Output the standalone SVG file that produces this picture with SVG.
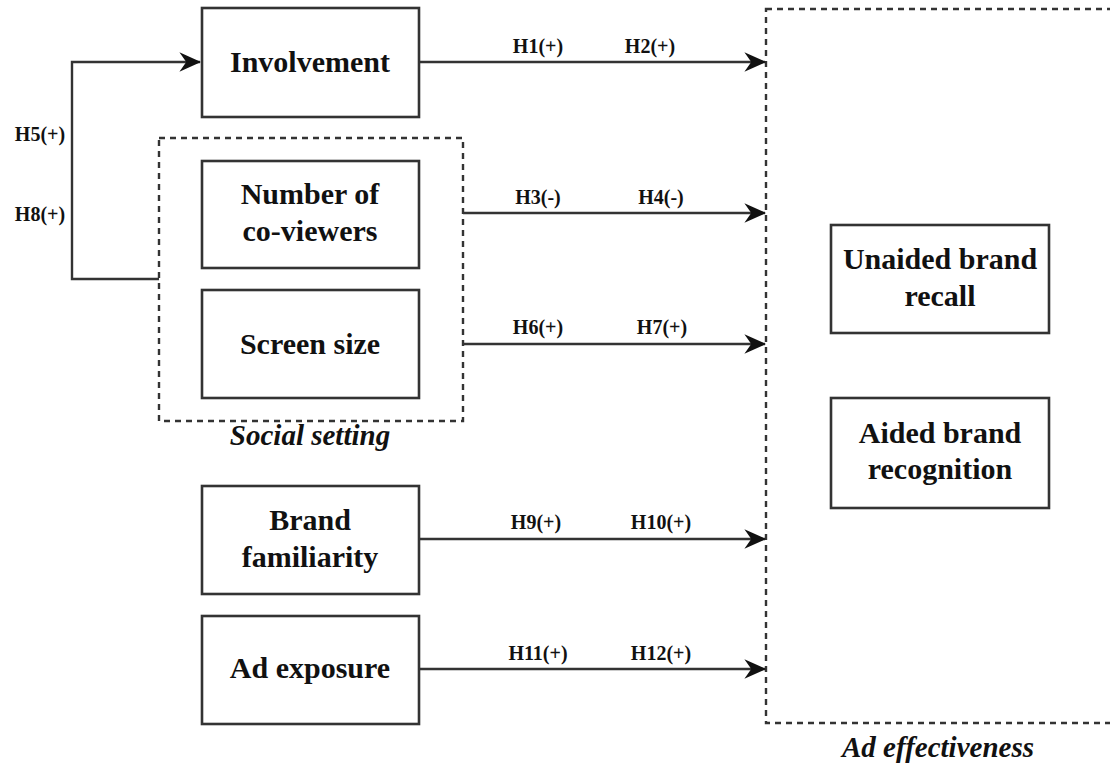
<svg xmlns="http://www.w3.org/2000/svg" width="1110" height="767" viewBox="0 0 1110 767">
<defs>
<style>
.box{fill:#fff;stroke:#333;stroke-width:2.6}
.dash{fill:none;stroke:#333;stroke-width:2.4;stroke-dasharray:6,5}
.edge{fill:none;stroke:#333;stroke-width:2.4}
.t{font-family:"Liberation Serif","Times New Roman",serif;font-weight:bold;font-size:30px;fill:#111;text-anchor:middle}
.h{font-family:"Liberation Serif","Times New Roman",serif;font-weight:bold;font-size:20px;fill:#111;text-anchor:middle}
.g{font-family:"Liberation Serif","Times New Roman",serif;font-weight:bold;font-style:italic;font-size:29px;fill:#111;text-anchor:middle}
</style>
<marker id="arr" markerWidth="9" markerHeight="9" viewBox="0 0 22 22" refX="21" refY="11" orient="auto" markerUnits="strokeWidth">
<path d="M0,1 L22,11 L0,21 L7,11 Z" fill="#111"/>
</marker>
</defs>
<rect width="1110" height="767" fill="#fff"/>

<g id="social-setting">
<rect class="dash" x="159" y="138" width="304" height="283"/>
<text class="g" x="310" y="445">Social setting</text>
</g>
<g id="ad-effectiveness">
<rect class="dash" x="766" y="9" width="360" height="714"/>
<text class="g" x="938" y="757">Ad effectiveness</text>
</g>

<g id="connectors">
<path class="edge" d="M159,279 H72 V62 H200" marker-end="url(#arr)"/>
<path class="edge" d="M419,62 H765" marker-end="url(#arr)"/>
<path class="edge" d="M463,213 H765" marker-end="url(#arr)"/>
<path class="edge" d="M463,344 H765" marker-end="url(#arr)"/>
<path class="edge" d="M419,539 H765" marker-end="url(#arr)"/>
<path class="edge" d="M419,669 H765" marker-end="url(#arr)"/>
<text class="h" x="40" y="141">H5(+)</text>
<text class="h" x="40" y="221">H8(+)</text>
<text class="h" x="538" y="53">H1(+)</text>
<text class="h" x="650" y="53">H2(+)</text>
<text class="h" x="538" y="204">H3(-)</text>
<text class="h" x="661" y="204">H4(-)</text>
<text class="h" x="538" y="334">H6(+)</text>
<text class="h" x="662" y="334">H7(+)</text>
<text class="h" x="536" y="529">H9(+)</text>
<text class="h" x="661" y="529">H10(+)</text>
<text class="h" x="538" y="660">H11(+)</text>
<text class="h" x="661" y="660">H12(+)</text>
</g>

<g id="involvement">
<rect class="box" x="202" y="8" width="217" height="109"/>
<text class="t" x="310" y="72">Involvement</text>
</g>
<g id="co-viewers">
<rect class="box" x="202" y="161" width="217" height="107"/>
<text class="t" x="310" y="204">Number of</text>
<text class="t" x="310" y="241">co-viewers</text>
</g>
<g id="screen-size">
<rect class="box" x="202" y="290" width="217" height="108"/>
<text class="t" x="310" y="354">Screen size</text>
</g>
<g id="brand-familiarity">
<rect class="box" x="202" y="486" width="217" height="108"/>
<text class="t" x="310" y="530">Brand</text>
<text class="t" x="310" y="567">familiarity</text>
</g>
<g id="ad-exposure">
<rect class="box" x="202" y="616" width="217" height="108"/>
<text class="t" x="310" y="678">Ad exposure</text>
</g>
<g id="unaided-recall">
<rect class="box" x="831" y="225" width="218" height="108"/>
<text class="t" x="940" y="269">Unaided brand</text>
<text class="t" x="940" y="306">recall</text>
</g>
<g id="aided-recognition">
<rect class="box" x="831" y="398" width="218" height="110"/>
<text class="t" x="940" y="443">Aided brand</text>
<text class="t" x="940" y="479">recognition</text>
</g>
</svg>
